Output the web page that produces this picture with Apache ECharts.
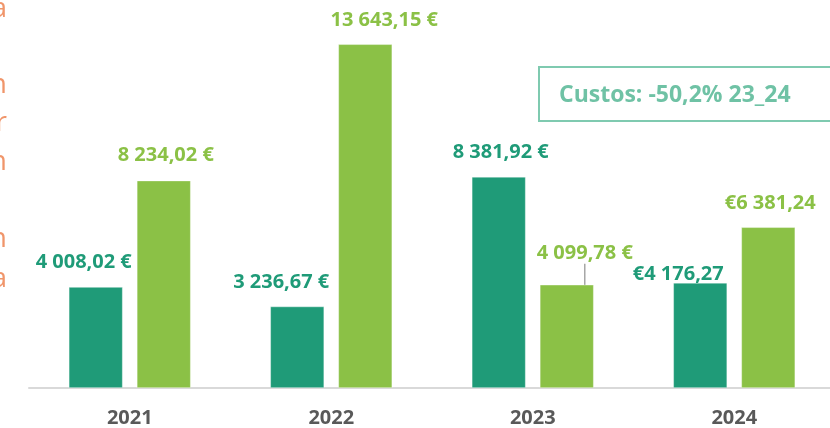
<!DOCTYPE html>
<html>
<head>
<meta charset="utf-8">
<script src="https://cdn.jsdelivr.net/npm/echarts@6/dist/echarts.min.js"></script>
<style>
  html, body { margin: 0; padding: 0; background: #fff; }
  #chart { width: 830px; height: 428px; }
</style>
</head>
<body>
<div id="chart"></div>
<script>
const years = ['2021', '2022', '2023', '2024'];
const custos = [4008.02, 3236.67, 8381.92, 4176.27];
const receitas = [8234.02, 13643.15, 4099.78, 6381.24];
// 2024 labels were written with the euro sign in front
const euroFirst = [false, false, false, true];

// label nudges (dx, dy) so they sit like the original
const custosShift = [[-12, -10], [-16, -9], [2, -9], [-22, 7]];
const receitasShift = [[2, -10], [19, -9], [18, -16], [2, -9]];

// cut-off text of the neighbouring text box (only the line ends show)
const sideText = [['a', 9], ['n', 85], ['r', 123], ['n', 162], ['n', 239], ['a', 279]];

const DARK = '#1f9b78';
const LIGHT = '#8bc146';
const FONT = '"Open Sans", "Liberation Sans", sans-serif';

function euro(v, i) {
  const parts = v.toFixed(2).split('.');
  const int = parts[0].replace(/\B(?=(\d{3})+(?!\d))/g, ' ');
  const s = int + ',' + parts[1];
  return euroFirst[i] ? '€' + s : s + ' €';
}

const chart = echarts.init(document.getElementById('chart'), null, { renderer: 'canvas' });

function barSeries(name, values, color, shift) {
  return {
    name: name,
    type: 'bar',
    barWidth: 54,
    barGap: '26%',
    itemStyle: { color: color, borderColor: 'rgba(255,255,255,0.5)', borderWidth: 0.75 },
    label: {
      show: true,
      position: 'top',
      distance: 5,
      color: color,
      fontFamily: FONT,
      fontWeight: 'bold',
      fontSize: 20,
      formatter: p => euro(p.value, p.dataIndex)
    },
    labelLine: { show: false },
    labelLayout: p => ({ dx: shift[p.dataIndex][0], dy: shift[p.dataIndex][1] }),
    data: values.map((v, i) => {
      const item = { value: v };
      if (name === 'Receitas' && i === 2) {
        item.labelLine = { show: true, lineStyle: { color: '#a6a6a6', width: 1.5 } };
      }
      return item;
    })
  };
}

const graphic = sideText.map(t => ({
  type: 'text',
  x: 7,
  y: t[1],
  style: {
    text: t[0],
    fill: '#f0956a',
    font: '28px ' + FONT,
    textAlign: 'right',
    textVerticalAlign: 'middle'
  }
}));

graphic.push({
  type: 'rect',
  shape: { x: 539, y: 67, width: 300, height: 54 },
  style: { fill: '#fff', stroke: '#7fcab0', lineWidth: 2 },
  z: 10
});
graphic.push({
  type: 'text',
  x: 559,
  y: 95,
  style: {
    text: 'Custos: -50,2% 23_24',
    fill: '#6fc2a5',
    font: 'bold 23px ' + FONT,
    textVerticalAlign: 'middle'
  },
  z: 11
});

chart.setOption({
  animation: false,
  backgroundColor: '#fff',
  grid: { left: 29, width: 806, top: 10, bottom: 40, containLabel: false, outerBoundsMode: 'none' },
  xAxis: {
    type: 'category',
    data: years,
    axisLine: { show: true, lineStyle: { color: '#d9d9d9', width: 2 } },
    axisTick: { show: false },
    axisLabel: {
      color: '#595959',
      fontFamily: FONT,
      fontWeight: 'bold',
      fontSize: 20,
      margin: 20
    }
  },
  yAxis: {
    type: 'value',
    min: 0,
    max: 15000,
    show: false,
    splitLine: { show: false }
  },
  series: [
    barSeries('Custos', custos, DARK, custosShift),
    barSeries('Receitas', receitas, LIGHT, receitasShift)
  ],
  graphic: graphic
});
</script>
</body>
</html>
